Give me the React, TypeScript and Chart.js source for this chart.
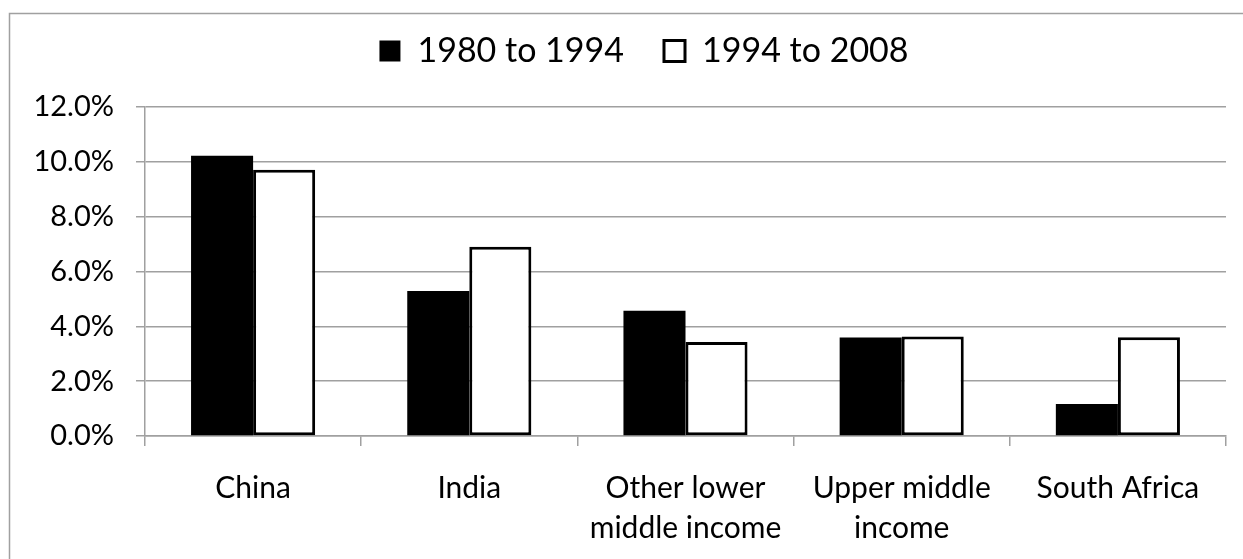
import React, { useEffect, useRef } from "react";
import { Chart, registerables } from "chart.js";

Chart.register(...registerables);

const categories: (string | string[])[] = [
  "China",
  "India",
  ["Other lower", "middle income"],
  ["Upper middle", "income"],
  "South Africa",
];
const seriesLabels = ["1980 to 1994", "1994 to 2008"];
const values1980to1994 = [10.22, 5.29, 4.57, 3.59, 1.17];
const values1994to2008 = [9.71, 6.9, 3.43, 3.63, 3.6];
const yTicks = [0, 2, 4, 6, 8, 10, 12];

const FONT = "Lato, 'Open Sans', sans-serif";
const GRID = "#a0a0a0";

const framePlugin = {
  id: "frame",
  beforeDraw(chart: any) {
    const { ctx } = chart;
    ctx.save();
    ctx.strokeStyle = GRID;
    ctx.lineWidth = 1.5;
    ctx.beginPath();
    ctx.moveTo(9.5, chart.height);
    ctx.lineTo(9.5, 13.5);
    ctx.lineTo(chart.width, 13.5);
    ctx.stroke();
    ctx.restore();
  },
};

// make the legend box taller so that the plot area starts lower, and nudge it right
const legendSpacePlugin = {
  id: "legendSpace",
  beforeLayout(chart: any) {
    const lg = chart.legend;
    if (lg && !lg.__patched) {
      const orig = lg.fit.bind(lg);
      lg.fit = function () {
        orig();
        this.height = 113;
      };
      lg.__patched = true;
    }
  },
  afterLayout(chart: any) {
    const lg = chart.legend;
    if (lg) {
      lg.left += 18;
      lg.right += 18;
    }
  },
};

export default function App() {
  const ref = useRef<HTMLCanvasElement | null>(null);
  useEffect(() => {
    if (!ref.current) return;
    const chart = new Chart(ref.current, {
      type: "bar",
      data: {
        labels: categories,
        datasets: [
          {
            label: seriesLabels[0],
            data: values1980to1994,
            backgroundColor: "#000000",
            borderColor: "#000000",
            borderWidth: 0,
            borderSkipped: false,
          },
          {
            label: seriesLabels[1],
            data: values1994to2008,
            backgroundColor: "#ffffff",
            borderColor: "#000000",
            borderWidth: 3,
            borderSkipped: false,
          },
        ],
      },
      options: {
        responsive: false,
        animation: false,
        devicePixelRatio: 1,
        layout: { padding: { left: 26, right: 17, top: -6, bottom: 0 } },
        datasets: {
          bar: { categoryPercentage: 0.574, barPercentage: 1 },
        },
        plugins: {
          legend: {
            display: true,
            position: "top",
            labels: {
              color: "#000",
              font: { family: FONT, size: 34 },
              boxWidth: 21,
              boxHeight: 21,
              padding: 40,
              generateLabels: (c: any) => {
                const items = Chart.defaults.plugins.legend.labels.generateLabels(c);
                items.forEach((it: any, i: number) => {
                  it.lineWidth = i === 1 ? 3 : 0;
                  it.strokeStyle = "#000";
                });
                return items;
              },
            },
          },
          tooltip: { enabled: false },
        },
        scales: {
          x: {
            afterFit: (s: any) => {
              s.height = 123;
            },
            grid: {
              display: true,
              drawOnChartArea: false,
              drawTicks: true,
              tickLength: 10,
              color: GRID,
              lineWidth: 1.5,
              offset: true,
            },
            border: { display: true, color: GRID, width: 1.5 },
            ticks: {
              color: "#000",
              font: { family: FONT, size: 30, lineHeight: 1.33 },
              padding: 22,
              maxRotation: 0,
              autoSkip: false,
            },
          },
          y: {
            min: 0,
            max: 12,
            afterFit: (s: any) => {
              s.width = 119;
            },
            afterBuildTicks: (s: any) => {
              s.ticks = yTicks.map((v) => ({ value: v }));
            },
            grid: {
              color: GRID,
              lineWidth: 1.5,
              tickLength: 9,
              drawTicks: true,
            },
            border: { display: true, color: GRID, width: 1.5 },
            ticks: {
              color: "#000",
              font: { family: FONT, size: 29 },
              padding: 22,
              callback: (v: any) => Number(v).toFixed(1) + "%",
            },
          },
        },
      },
      plugins: [framePlugin, legendSpacePlugin],
    });
    return () => chart.destroy();
  }, []);
  return (
    <div style={{ position: "fixed", left: 0, top: 0, width: 1243, height: 559, background: "#fff" }}>
      <canvas ref={ref} width={1243} height={559} style={{ display: "block" }} />
    </div>
  );
}
